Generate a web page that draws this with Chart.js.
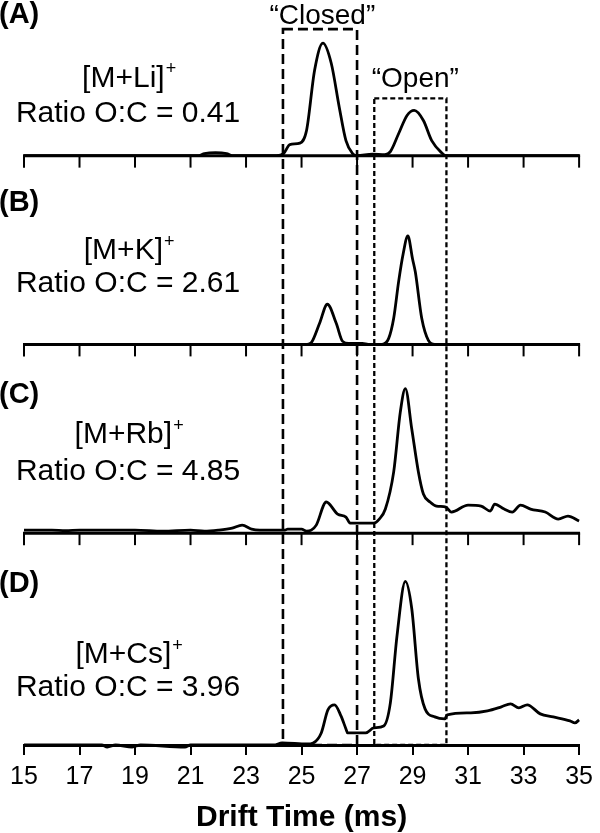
<!DOCTYPE html>
<html>
<head>
<meta charset="utf-8">
<script src="https://cdn.jsdelivr.net/npm/chart.js@4"></script>
<style>
  body { margin: 0; background: #fff; }
  #wrap { position: relative; width: 600px; height: 833px; }
</style>
</head>
<body>
<div id="wrap"><canvas id="driftChart"></canvas></div>
<script>
// drift time (ms) and relative intensity
const liTime = [15, 21.3, 21.5, 21.9, 22.3, 22.5, 24.1, 24.35, 24.58, 24.94, 25.18, 25.47, 25.77, 26.07, 26.36, 26.6, 26.84, 27.0, 27.55, 28.0, 28.2, 28.5, 28.8, 29.06, 29.39, 29.69, 30.04, 30.2, 35];
const liInt  = [0, 0, 2, 3, 2, 0, 0, 2, 11, 12.5, 25, 85, 112, 92, 48, 15, 2, 0, 1.5, 1, 4, 22, 40, 45, 35, 15, 3, 0, 0];

const kTime = [15, 25.2, 25.36, 25.65, 25.93, 26.25, 26.48, 26.7, 27.2, 27.4, 27.9, 28.14, 28.32, 28.5, 28.66, 28.83, 29.0, 29.1, 29.33, 29.57, 29.8, 35];
const kInt  = [0, 0, 2, 21, 40, 21, 3, 1, 1, 0, 0, 6, 26, 63, 90, 108, 85, 72, 26, 4, 0, 0];

const rbTime = [15, 16, 16.5, 17, 18, 19, 20, 21, 21.5, 22, 22.5, 22.86, 23.2, 23.5, 24, 24.4, 24.5, 25.0, 25.18, 25.35, 25.53, 25.89, 26.3, 26.6, 26.75, 27.6, 27.8, 28.02, 28.32, 28.56, 28.74, 28.97, 29.21, 29.39, 29.63, 29.86, 30.2, 30.4, 31.0, 31.47, 31.8, 31.96, 32.3, 32.59, 32.89, 33.25, 33.78, 34.25, 34.6, 35];
const rbInt  = [3, 3, 2.5, 3, 3, 3, 2, 3, 2, 3, 5, 8, 4, 3, 3, 3, 4, 4, 2, 3, 8, 31, 19, 16, 10, 10, 14, 24, 61, 121, 144, 104, 61, 39, 31, 27, 26, 21, 28, 27, 22, 29, 24, 21, 28, 24, 21, 14, 17, 12];

const csTime = [15, 17.8, 18, 18.3, 18.9, 19.2, 20.8, 21, 24, 24.3, 25.2, 25.42, 25.71, 25.95, 26.19, 26.42, 26.6, 26.66, 27.31, 27.6, 27.96, 28.2, 28.44, 28.74, 28.97, 29.21, 29.45, 29.8, 30.16, 30.25, 31.1, 31.7, 32.2, 32.53, 32.83, 33.13, 33.6, 34.07, 34.67, 34.85, 35];
const csInt  = [0, 0, -2, 0, -2, 0, -2, 0, 0, 2, 1, 2, 12, 35, 40, 29, 16, 12, 12, 17, 19, 42, 109, 163, 136, 66, 36, 28, 26, 30, 32, 34, 38, 41, 37, 40, 31, 28, 24, 22, 25];

const panelIds = ['yA', 'yB', 'yC', 'yD'];
const panelMax = [155, 188, 188, 211];
const panelLetters = ['(A)', '(B)', '(C)', '(D)'];
const ionLabels = ['[M+Li]', '[M+K]', '[M+Rb]', '[M+Cs]'];
const ratioLabels = ['Ratio O:C = 0.41', 'Ratio O:C = 2.61', 'Ratio O:C = 4.85', 'Ratio O:C = 3.96'];
const xTickValues = [15, 17, 19, 21, 23, 25, 27, 29, 31, 33, 35];
const closedRange = [24.33, 27.0];
const openRange = [27.62, 30.22];

const FONT = "'Liberation Sans', Arial, sans-serif";

function toPts(xs, ys) {
    return xs.map((x, i) => ({ x: x, y: ys[i] }));
}

function ionText(ctx, label, cx, cy) {
    ctx.font = '30px ' + FONT;
    const w1 = ctx.measureText(label).width;
    ctx.font = '18px ' + FONT;
    const w2 = ctx.measureText('+').width;
    const left = cx - (w1 + w2) / 2;
    ctx.textAlign = 'left';
    ctx.textBaseline = 'middle';
    ctx.font = '30px ' + FONT;
    ctx.fillText(label, left, cy);
    ctx.font = '18px ' + FONT;
    ctx.fillText('+', left + w1 + 1, cy - 9);
}

const panelDecor = {
    id: 'panelDecor',
    beforeDatasetsDraw(chart) {
        const ctx = chart.ctx, xs = chart.scales.x;
        ctx.save();
        ctx.strokeStyle = '#000';
        // baselines + tick marks for the upper three panels
        for (let i = 0; i < 3; i++) {
            const y0 = chart.scales[panelIds[i]].getPixelForValue(0);
            ctx.lineWidth = 3;
            ctx.beginPath();
            ctx.moveTo(xs.left - 1, y0);
            ctx.lineTo(xs.right + 1, y0);
            ctx.stroke();
            ctx.lineWidth = 2;
            xs.ticks.forEach(t => {
                const px = xs.getPixelForValue(t.value);
                ctx.beginPath();
                ctx.moveTo(px, y0);
                ctx.lineTo(px, y0 + 12);
                ctx.stroke();
            });
        }
        ctx.restore();
    },
    afterDatasetsDraw(chart) {
        const ctx = chart.ctx, xs = chart.scales.x, s = chart.scales;
        const bottom = s.yD.getPixelForValue(0);
        ctx.save();
        ctx.strokeStyle = '#000';

        // "Closed" box
        ctx.lineWidth = 2.6;
        ctx.setLineDash([10, 5]);
        let l = xs.getPixelForValue(closedRange[0]), r = xs.getPixelForValue(closedRange[1]);
        let top = s.yA.getPixelForValue(126);
        ctx.strokeRect(l, top, r - l, bottom - top);

        // "Open" box
        ctx.lineWidth = 2.3;
        ctx.setLineDash([5, 3]);
        l = xs.getPixelForValue(openRange[0]); r = xs.getPixelForValue(openRange[1]);
        top = s.yA.getPixelForValue(57);
        ctx.strokeRect(l, top, r - l, bottom - top);
        ctx.setLineDash([]);

        ctx.fillStyle = '#000';
        ctx.textAlign = 'center';
        ctx.textBaseline = 'middle';
        ctx.font = '28px ' + FONT;
        ctx.fillText('\u201CClosed\u201D', xs.getPixelForValue(25.75), s.yA.getPixelForValue(139));
        ctx.fillText('\u201COpen\u201D', xs.getPixelForValue(29.1), s.yA.getPixelForValue(76));

        // panel letters and labels
        const letterY = [140, 141, 138, 160];
        const ionY = [77, 93, 98, 90];
        const ratioY = [42, 60, 61, 57];
        for (let i = 0; i < 4; i++) {
            const ys = s[panelIds[i]];
            ctx.font = 'bold 29px ' + FONT;
            ctx.textAlign = 'left';
            ctx.textBaseline = 'middle';
            ctx.fillText(panelLetters[i], -1, ys.getPixelForValue(letterY[i]));
            ionText(ctx, ionLabels[i], xs.getPixelForValue(18.77), ys.getPixelForValue(ionY[i]));
            ctx.font = '30px ' + FONT;
            ctx.textAlign = 'center';
            ctx.fillText(ratioLabels[i], xs.getPixelForValue(18.75), ys.getPixelForValue(ratioY[i]));
        }
        ctx.restore();
    }
};

const series = [
    toPts(liTime, liInt),
    toPts(kTime, kInt),
    toPts(rbTime, rbInt),
    toPts(csTime, csInt)
];

// stacked y axes are laid out bottom-up, so add them from (D) to (A)
const yScales = {};
for (let i = panelIds.length - 1; i >= 0; i--) {
    yScales[panelIds[i]] = {
        type: 'linear',
        display: false,
        stack: 'panels',
        stackWeight: panelMax[i],
        min: 0,
        max: panelMax[i]
    };
}

const ctx = document.getElementById('driftChart').getContext('2d');
const driftChart = new Chart(ctx, {
    type: 'line',
    data: {
        datasets: series.map((pts, i) => ({
            data: pts,
            yAxisID: panelIds[i],
            borderColor: '#000',
            borderWidth: 2.8,
            pointRadius: 0,
            cubicInterpolationMode: 'monotone',
            clip: false
        }))
    },
    options: {
        responsive: true,
        maintainAspectRatio: false,
        animation: false,
        layout: { padding: { left: 24, right: 14, top: 0, bottom: 0 } },
        plugins: {
            legend: { display: false },
            tooltip: { enabled: false }
        },
        scales: Object.assign({
            x: {
                type: 'linear',
                min: 15,
                max: 35,
                afterBuildTicks(scale) {
                    scale.ticks = xTickValues.map(v => ({ value: v }));
                },
                ticks: {
                    color: '#000',
                    font: { family: FONT, size: 25 },
                    padding: 7,
                    maxRotation: 0
                },
                grid: {
                    drawOnChartArea: false,
                    drawTicks: true,
                    tickLength: 10,
                    color: '#000',
                    lineWidth: 2
                },
                border: { color: '#000', width: 3 },
                title: {
                    display: true,
                    text: 'Drift Time (ms)',
                    color: '#000',
                    font: { family: FONT, size: 30, weight: 'bold', lineHeight: 1.0 },
                    padding: { top: 4, bottom: 0 }
                }
            }
        }, yScales)
    },
    plugins: [panelDecor]
});
</script>
</body>
</html>
